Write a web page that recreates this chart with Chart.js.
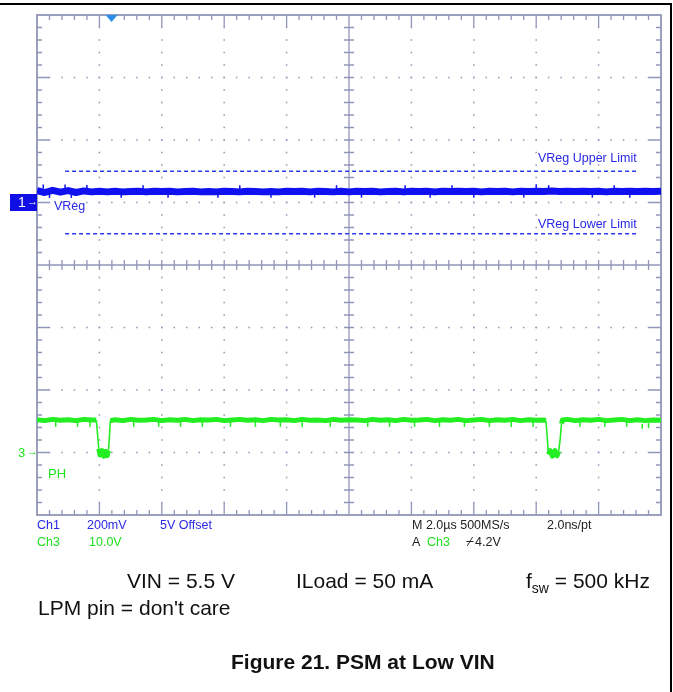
<!DOCTYPE html>
<html><head><meta charset="utf-8">
<script src="https://cdn.jsdelivr.net/npm/chart.js@4"></script>
<style>
html,body{margin:0;padding:0;background:#fff;}
#wrap{position:relative;width:673px;height:692px;overflow:hidden;font-family:"Liberation Sans",Arial,sans-serif;}
canvas{position:absolute;left:0;top:0;}
.t{position:absolute;white-space:nowrap;line-height:1;}
.s{font-size:12.5px;}
.blue{color:#2828e6;}
.green{color:#1fe01f;}
.dark{color:#222;}
.cap{font-size:21px;color:#111;}
#frame{position:absolute;left:-5px;top:3px;width:675px;height:720px;border-top:2px solid #000;border-right:2px solid #000;}
#m1{position:absolute;left:10px;top:194px;width:27px;height:17px;background:#1010e6;color:#fff;font-size:14px;line-height:17px;}
</style></head>
<body>
<div id="wrap">
<canvas id="c" width="673" height="692"></canvas>
<div id="frame"></div>
<div id="m1"><span style="position:absolute;left:8px;top:0">1</span><span style="position:absolute;left:17px;top:-1px;font-size:11px">→</span></div>
<div class="t s blue" style="left:54px;top:200px">VReg</div>
<div class="t s blue" style="left:538px;top:152px">VReg Upper Limit</div>
<div class="t s blue" style="left:538px;top:218px">VReg Lower Limit</div>
<div class="t green" style="left:18px;top:446px;font-size:13px">3</div>
<div class="t green" style="left:27px;top:446px;font-size:11px">→</div>
<div class="t green" style="left:48px;top:467px;font-size:13px">PH</div>
<div class="t s blue" style="left:37px;top:519px">Ch1</div>
<div class="t s blue" style="left:87px;top:519px">200mV</div>
<div class="t s blue" style="left:160px;top:519px">5V Offset</div>
<div class="t s green" style="left:37px;top:536px">Ch3</div>
<div class="t s green" style="left:89px;top:536px">10.0V</div>
<div class="t s dark" style="left:412px;top:519px">M 2.0µs 500MS/s</div>
<div class="t s dark" style="left:547px;top:519px">2.0ns/pt</div>
<div class="t s dark" style="left:412px;top:536px">A</div>
<div class="t s green" style="left:427px;top:536px">Ch3</div>
<div class="t s dark" style="left:466px;top:536px">⌿</div>
<div class="t s dark" style="left:475px;top:536px">4.2V</div>
<div class="t cap" style="left:127px;top:570px">VIN = 5.5 V</div>
<div class="t cap" style="left:296px;top:570px">ILoad = 50 mA</div>
<div class="t cap" style="left:526px;top:570px">f<span style="font-size:14px;position:relative;top:5px">sw</span> = 500 kHz</div>
<div class="t cap" style="left:38px;top:597px">LPM pin = don't care</div>
<div class="t cap" style="left:231px;top:651px;font-weight:bold">Figure 21. PSM at Low VIN</div>
</div>
<script>
// ---- Data (read from the scope capture) ----
// Ch1 (VReg), volts
const ch1Time = [0,0.25,0.5,0.75,1,1.25,1.5,1.75,2,2.25,2.5,2.75,3,3.25,3.5,3.75,4,4.25,4.5,4.75,5,5.25,5.5,5.75,6,6.25,6.5,6.75,7,7.25,7.5,7.75,8,8.25,8.5,8.75,9,9.25,9.5,9.75,10,10.25,10.5,10.75,11,11.25,11.5,11.75,12,12.25,12.5,12.75,13,13.25,13.5,13.75,14,14.25,14.5,14.75,15,15.25,15.5,15.75,16,16.25,16.5,16.75,17,17.25,17.5,17.75,18,18.25,18.5,18.75,19,19.25,19.5,19.75,20];
const ch1Volts = [
5.038,5.032,5.039,5.033,5.038,5.032,5.037,5.034,
5.036,5.034,5.036,5.034,5.035,5.036,5.034,5.036,5.035,5.036,5.034,5.035,
5.036,5.034,5.035,5.034,5.036,5.035,5.034,5.036,5.035,5.034,
5.035,5.034,5.036,5.035,5.036,5.034,5.036,5.035,5.034,5.036,
5.034,5.036,5.035,5.036,5.034,5.035,5.036,5.034,5.036,5.035,
5.036,5.034,5.036,5.035,5.036,5.035,5.036,5.034,5.036,5.035,
5.036,5.034,5.036,5.035,5.036,5.035,5.037,5.035,5.036,5.035,
5.036,5.035,5.036,5.034,5.036,5.035,5.036,5.035,5.036,5.035,5.036];
// Ch1 noise spikes
const ch1SpikeDownTime = [0.4,1.1,2.7,4.2,5.8,7.5,8.9,10.4,12.6,14.0,15.6,17.8,19.0];
const ch1SpikeDownVolts = [5.021,5.021,5.022,5.022,5.022,5.022,5.022,5.022,5.022,5.022,5.022,5.022,5.022];
const ch1SpikeUpTime = [0.2,0.9,1.6,3.4,6.5,9.6,11.8,13.3,16.0,16.4,18.5];
const ch1SpikeUpVolts = [5.051,5.051,5.050,5.049,5.049,5.049,5.049,5.049,5.052,5.049,5.049];

// Ch3 (PH), volts
const ch3Time = [0,0.25,0.5,0.75,1,1.25,1.5,1.75,
1.9,1.94,1.98,2.02,2.08,2.14,2.2,2.25,2.29,2.32,2.35,
2.5,2.75,3,3.25,3.5,3.75,4,4.25,4.5,4.75,5,5.25,5.5,5.75,6,6.25,6.5,6.75,7,7.25,7.5,7.75,8,8.25,8.5,8.75,9,9.25,9.5,9.75,10,10.25,10.5,10.75,11,11.25,11.5,11.75,12,12.25,12.5,12.75,13,13.25,13.5,13.75,14,14.25,14.5,14.75,15,15.25,15.5,15.75,16,16.25,
16.31,16.35,16.39,16.45,16.52,16.6,16.67,16.72,16.77,16.81,16.84,
17,17.25,17.5,17.75,18,18.25,18.5,18.75,19,19.25,19.5,19.75,20];
const ch3Volts = [5.25,5.1,5.3,5.15,5.25,5.1,5.3,5.2,
5.2,3.0,0.6,-0.4,0.3,-0.6,0.2,-0.5,0.3,2.5,5.1,
5.25,5.1,5.3,5.15,5.2,5.3,5.1,5.25,
5.15,5.3,5.1,5.25,5.2,5.3,5.1,5.2,
5.3,5.15,5.25,5.1,5.3,5.2,5.25,5.1,
5.3,5.15,5.2,5.1,5.3,5.15,5.25,5.2,
5.1,5.3,5.15,5.25,5.1,5.3,5.15,5.2,
5.3,5.1,5.25,5.15,5.3,5.1,5.2,5.3,
5.1,5.25,5.15,5.3,5.1,5.25,5.15,5.2,
5.1,2.8,-0.3,0.3,-0.6,0.3,-0.5,0.2,2.2,4.6,5.2,
5.3,5.1,5.25,5.15,5.3,5.1,5.2,5.3,5.1,5.25,5.1,5.2,5.15];
// Ch3 noise spikes
const ch3SpikeTime = [0.6,1.3,1.7,3.1,3.9,4.6,5.3,6.2,7.0,7.8,8.5,9.4,10.6,11.3,12.1,12.9,13.7,14.5,15.2,15.9,17.4,18.2,18.9,19.4,19.6];
const ch3SpikeVolts = [4.5,4.5,4.5,4.5,4.5,4.5,4.5,4.5,4.5,4.5,4.5,4.5,4.5,4.5,4.5,4.5,4.5,4.5,4.5,4.5,4.5,4.5,4.5,4.2,4.3];

const limitTime = [0.9, 19.2];
const vregUpperLimit = 5.1;
const vregLowerLimit = 4.9;

// scope settings
const timePerDiv = 2;          // µs/div
const ch1VoltsPerDiv = 0.2, ch1Offset = 5.0, ch1Position = 1.0;
const ch3VoltsPerDiv = 10, ch3Position = -3.0;
const triggerTime = 2.39;

const pts = (xs, ys) => xs.map((x, i) => ({x, y: ys[i]}));
const GRID = '#9196b9';
const BLUE = '#1010f0', GREEN = '#22ee22';

const graticule = {
  id: 'graticule',
  beforeDatasetsDraw(chart) {
    const {ctx, chartArea: a, scales} = chart;
    const xs = scales.x, ys = scales.div;
    const X = v => xs.getPixelForValue(v), Y = v => ys.getPixelForValue(v);
    ctx.save();
    ctx.fillStyle = GRID; ctx.strokeStyle = GRID;
    for (let i = 1; i < 10; i++) {
      if (i === 5) continue;
      const x = X(i * timePerDiv);
      for (let j = 1; j < 40; j++) { const y = Y(-4 + j * 0.2); ctx.fillRect(x - 0.75, y - 0.75, 1.5, 1.5); }
    }
    for (let k = -3; k <= 3; k++) {
      if (k === 0) continue;
      const y = Y(k);
      for (let j = 1; j < 50; j++) { const x = X(j * timePerDiv / 5); ctx.fillRect(x - 0.75, y - 0.75, 1.5, 1.5); }
    }
    ctx.lineWidth = 1.3;
    ctx.beginPath();
    ctx.moveTo(a.left, Y(0)); ctx.lineTo(a.right, Y(0));
    ctx.moveTo(X(10), a.top); ctx.lineTo(X(10), a.bottom);
    for (let j = 1; j < 50; j++) { const x = X(j * timePerDiv / 5); ctx.moveTo(x, Y(0) - 5); ctx.lineTo(x, Y(0) + 5); }
    for (let j = 1; j < 40; j++) { const y = Y(-4 + j * 0.2); ctx.moveTo(X(10) - 5, y); ctx.lineTo(X(10) + 5, y); }
    for (let j = 1; j < 50; j++) {
      const x = X(j * timePerDiv / 5), L = (j % 5 === 0) ? 12 : 5;
      ctx.moveTo(x, a.top); ctx.lineTo(x, a.top + L);
      ctx.moveTo(x, a.bottom); ctx.lineTo(x, a.bottom - L);
    }
    for (let j = 1; j < 40; j++) {
      const y = Y(-4 + j * 0.2), L = (j % 5 === 0) ? 12 : 5;
      ctx.moveTo(a.left, y); ctx.lineTo(a.left + L, y);
      ctx.moveTo(a.right, y); ctx.lineTo(a.right - L, y);
    }
    ctx.stroke();
    ctx.lineWidth = 1.8;
    ctx.strokeRect(a.left, a.top, a.right - a.left, a.bottom - a.top);
    ctx.restore();
  },
  afterDatasetsDraw(chart) {
    const {ctx, chartArea: a, scales} = chart;
    const x = scales.x.getPixelForValue(triggerTime);
    ctx.save();
    ctx.fillStyle = '#2a8ee8';
    ctx.beginPath();
    ctx.moveTo(x - 6, a.top); ctx.lineTo(x + 6, a.top); ctx.lineTo(x, a.top + 7); ctx.closePath();
    ctx.fill();
    ctx.restore();
  }
};

const thinEdges = (limit, w) => ({borderWidth: c => Math.abs(c.p1.parsed.y - c.p0.parsed.y) > limit ? w : undefined});
const spikeSet = (xs, ys, axis, color, r) => ({data: pts(xs, ys), yAxisID: axis, showLine: false, pointStyle: 'line', pointRotation: 90, pointRadius: r, pointBorderColor: color, pointBorderWidth: 1.5, pointBackgroundColor: color});

new Chart(document.getElementById('c'), {
  type: 'scatter',
  data: {
    datasets: [
      {data: pts(limitTime, [vregUpperLimit, vregUpperLimit]), yAxisID: 'y1', showLine: true, borderColor: '#2b3cf0', borderWidth: 1.5, borderDash: [4, 3], pointRadius: 0},
      {data: pts(limitTime, [vregLowerLimit, vregLowerLimit]), yAxisID: 'y1', showLine: true, borderColor: '#2b3cf0', borderWidth: 1.5, borderDash: [4, 3], pointRadius: 0},
      spikeSet(ch3SpikeTime, ch3SpikeVolts, 'y3', GREEN, 2.5),
      {data: pts(ch3Time, ch3Volts), yAxisID: 'y3', showLine: true, borderColor: GREEN, borderWidth: 5, borderJoinStyle: 'round', pointRadius: 0, segment: thinEdges(1.5, 1.6)},
      spikeSet(ch1SpikeDownTime, ch1SpikeDownVolts, 'y1', BLUE, 2),
      spikeSet(ch1SpikeUpTime, ch1SpikeUpVolts, 'y1', BLUE, 2),
      {data: pts(ch1Time, ch1Volts), yAxisID: 'y1', showLine: true, borderColor: BLUE, borderWidth: 7, borderJoinStyle: 'round', pointRadius: 0}
    ]
  },
  options: {
    responsive: false, animation: false, devicePixelRatio: 1, events: [],
    layout: {padding: {left: 37, top: 15, right: 12, bottom: 177}},
    plugins: {legend: {display: false}, tooltip: {enabled: false}},
    scales: {
      x: {type: 'linear', axis: 'x', position: 'bottom', min: 0, max: 10 * timePerDiv, display: false},
      y1: {type: 'linear', axis: 'y', position: 'left', min: ch1Offset - (4 + ch1Position) * ch1VoltsPerDiv, max: ch1Offset + (4 - ch1Position) * ch1VoltsPerDiv, display: false},
      y3: {type: 'linear', axis: 'y', position: 'left', min: -(4 + ch3Position) * ch3VoltsPerDiv, max: (4 - ch3Position) * ch3VoltsPerDiv, display: false},
      div: {type: 'linear', axis: 'y', position: 'left', min: -4, max: 4, display: false}
    }
  },
  plugins: [graticule]
});
</script>
</body></html>
